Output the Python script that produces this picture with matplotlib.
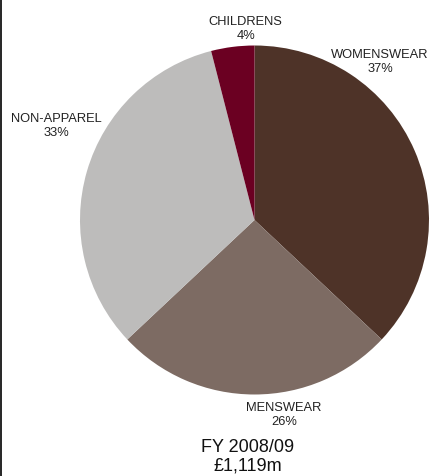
''' Sales mix pie chart, FY 2008/09. '''

import matplotlib.pyplot as plt
import numpy as np

# Sales split by category (% of total)
categories = ['WOMENSWEAR', 'MENSWEAR', 'NON-APPAREL', 'CHILDRENS']
shares = [37, 26, 33, 4]
colours = ['#4e3328', '#7d6b63', '#bdbcbb', '#6b0022']

period = 'FY 2008/09'
total = '£1,119m'

# where each label sits, in units of the pie radius
label_pos = [(0.72, 0.913), (0.17, -1.11), (-1.135, 0.545), (-0.05, 1.10)]

W, H = 433, 477
cx, cy, r = 254.5, 221, 174.5

plt.rcParams['font.family'] = ['Liberation Sans', 'DejaVu Sans']

fig = plt.figure(figsize=(W / 100, H / 100), dpi=100)
ax = fig.add_axes([(cx - r) / W, (H - cy - r) / H, 2 * r / W, 2 * r / H])

ax.pie(shares, colors=colours, startangle=90, counterclock=False,
       radius=1.0, wedgeprops={'linewidth': 0})

for name, share, (x, y) in zip(categories, shares, label_pos):
    ax.text(x, y, '{}\n{}%'.format(name, share), ha='center', va='center',
            fontsize=9.3, color='#222222', linespacing=1.25)

ax.set_xlim(-1, 1)
ax.set_ylim(-1, 1)
ax.set_aspect('equal')
ax.axis('off')

# caption under the pie
fig.text(247.5 / W, 1 - 457 / H, '{}\n{}'.format(period, total),
         ha='center', va='center', fontsize=13, color='#111111', linespacing=1.15)

# thin rule down the left edge
fig.add_artist(plt.Line2D([0.5 / W, 0.5 / W], [0, 1], color='black', linewidth=1.2,
                          transform=fig.transFigure))

fig.savefig('out.png', dpi=100)
